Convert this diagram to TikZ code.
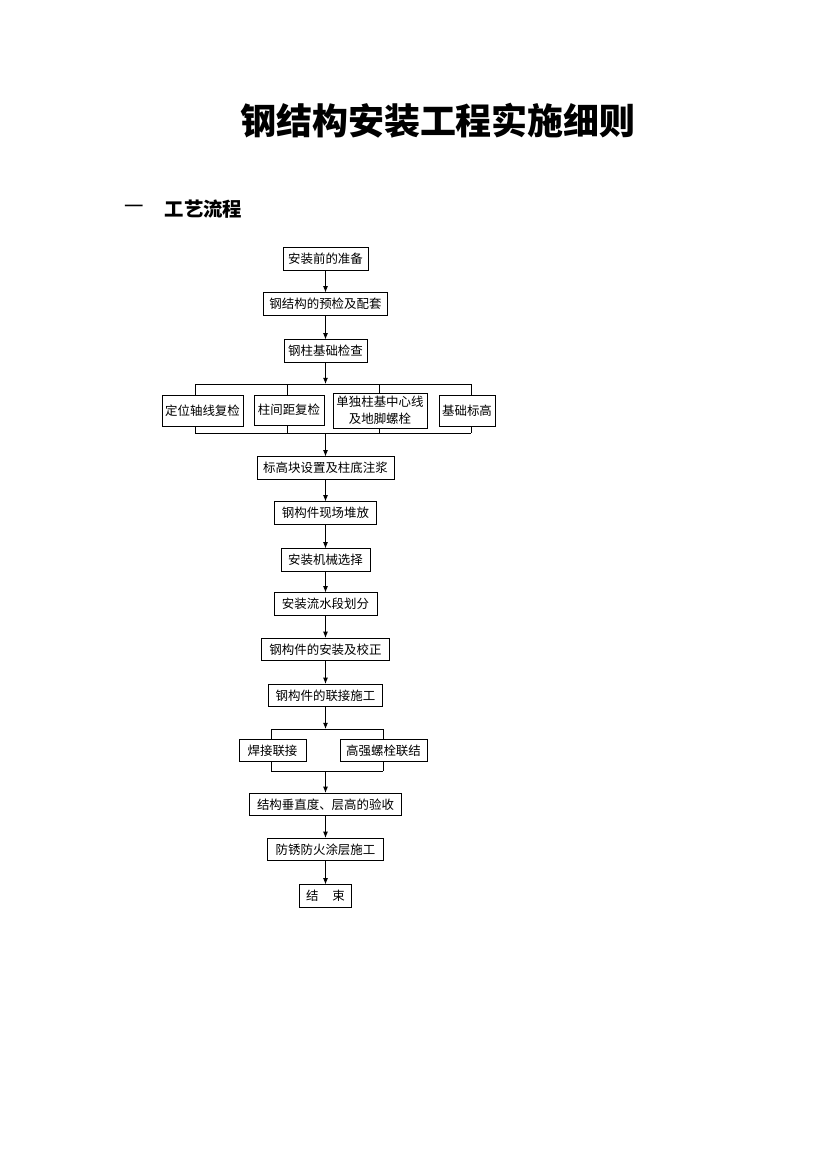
\documentclass[tikz,border=0pt]{standalone}
\usepackage{fontspec}
\newfontfamily\cjk{Noto Sans CJK SC}
\usepackage{tikz}
\usetikzlibrary{arrows.meta}

% one reference pixel
\newcommand\pxl[1]{#1*0.254mm}

\tikzset{
    flowbox/.style={draw, line width=0.6pt, inner sep=0pt, align=center,
        minimum height=\pxl{22.5}, font=\cjk\fontsize{9}{12}\selectfont},
    flowline/.style={line width=0.6pt},
    flowarrow/.style={line width=0.6pt, -{Latex[length=4.5pt,width=3.6pt]}}
}

\begin{document}
\begin{tikzpicture}[x=0.254mm, y=-0.254mm]
    \useasboundingbox (0,0) rectangle (827,1169);

    % Title and heading
    \node (title) at (438,121) {\cjk\bfseries\fontsize{26}{30}\selectfont 钢结构安装工程实施细则};
    \node (secno) at (134,209) {\cjk\fontsize{14}{16}\selectfont 一};
    \node (sectitle) at (203.5,209) {\cjk\bfseries\fontsize{14}{16}\selectfont 工艺流程};

    % Main column
    \node[flowbox, minimum width=\pxl{85}]  (prep)     at (325.5,259)   {安装前的准备};
    \node[flowbox, minimum width=\pxl{124}] (precheck) at (325.5,304)   {钢结构的预检及配套};
    \node[flowbox, minimum width=\pxl{83}]  (base)     at (325.5,351)   {钢柱基础检查};

    % Four checks
    \node[flowbox, minimum width=\pxl{81}, minimum height=\pxl{31}] (axis)   at (202.5,410.5) {定位轴线复检};
    \node[flowbox, minimum width=\pxl{70}, minimum height=\pxl{30}] (span)   at (289,410)     {柱间距复检};
    \node[flowbox, minimum width=\pxl{94}, minimum height=\pxl{35}] (center) at (380,410.5)   {单独柱基中心线\\及地脚螺栓};
    \node[flowbox, minimum width=\pxl{56}, minimum height=\pxl{31}] (level)  at (467,410.5)   {基础标高};

    \node[flowbox, minimum width=\pxl{137}] (grout)  at (325.5,468)   {标高块设置及柱底注浆};
    \node[flowbox, minimum width=\pxl{102}] (stack)  at (325.5,513)   {钢构件现场堆放};
    \node[flowbox, minimum width=\pxl{89}]  (crane)  at (325.5,560)   {安装机械选择};
    \node[flowbox, minimum width=\pxl{103}] (zone)   at (325.5,604)   {安装流水段划分};
    \node[flowbox, minimum width=\pxl{128}] (erect)  at (325.5,649.5) {钢构件的安装及校正};
    \node[flowbox, minimum width=\pxl{114}] (joint)  at (325.5,695.5) {钢构件的联接施工};

    % Two kinds of joint
    \node[flowbox, minimum width=\pxl{67}] (weld) at (272.5,750.5) {焊接联接};
    \node[flowbox, minimum width=\pxl{87}] (bolt) at (383.5,750.5) {高强螺栓联结};

    \node[flowbox, minimum width=\pxl{152}] (accept) at (325.5,804.5) {结构垂直度、层高的验收};
    \node[flowbox, minimum width=\pxl{116}] (coat)   at (325.5,849.5) {防锈防火涂层施工};
    \node[flowbox, minimum width=\pxl{52}]  (finish) at (325.5,896)   {结\hspace{1.1em}束};

    % Bus points
    \coordinate (btop) at (325.5,384);
    \coordinate (bbot) at (325.5,433);
    \coordinate (bt1) at (195,384); \coordinate (bb1) at (195,433);
    \coordinate (bt2) at (287,384); \coordinate (bb2) at (287,433);
    \coordinate (bt3) at (379,384); \coordinate (bb3) at (379,433);
    \coordinate (bt4) at (471,384); \coordinate (bb4) at (471,433);
    \coordinate (stop) at (325.5,729);
    \coordinate (sbot) at (325.5,771);
    \coordinate (st1) at (271,729); \coordinate (sb1) at (271,771);
    \coordinate (st2) at (383,729); \coordinate (sb2) at (383,771);

    % Arrows
    \draw[flowarrow] (prep) -- (precheck);
    \draw[flowarrow] (precheck) -- (base);
    \draw[flowarrow] (base) -- (btop);
    \draw[flowline] (bt1) -- (bt4);
    \draw[flowline] (bb1) -- (bb4);
    \foreach \b/\n in {1/axis, 2/span, 3/center, 4/level} {
        \draw[flowline] (bt\b) -- (bt\b |- \n.north);
        \draw[flowline] (bb\b |- \n.south) -- (bb\b);
    }
    \draw[flowarrow] (bbot) -- (grout);
    \draw[flowarrow] (grout) -- (stack);
    \draw[flowarrow] (stack) -- (crane);
    \draw[flowarrow] (crane) -- (zone);
    \draw[flowarrow] (zone) -- (erect);
    \draw[flowarrow] (erect) -- (joint);
    \draw[flowarrow] (joint) -- (stop);
    \draw[flowline] (st1) -- (st2);
    \draw[flowline] (sb1) -- (sb2);
    \foreach \b/\n in {1/weld, 2/bolt} {
        \draw[flowline] (st\b) -- (st\b |- \n.north);
        \draw[flowline] (sb\b |- \n.south) -- (sb\b);
    }
    \draw[flowarrow] (sbot) -- (accept);
    \draw[flowarrow] (accept) -- (coat);
    \draw[flowarrow] (coat) -- (finish);
\end{tikzpicture}
\end{document}
